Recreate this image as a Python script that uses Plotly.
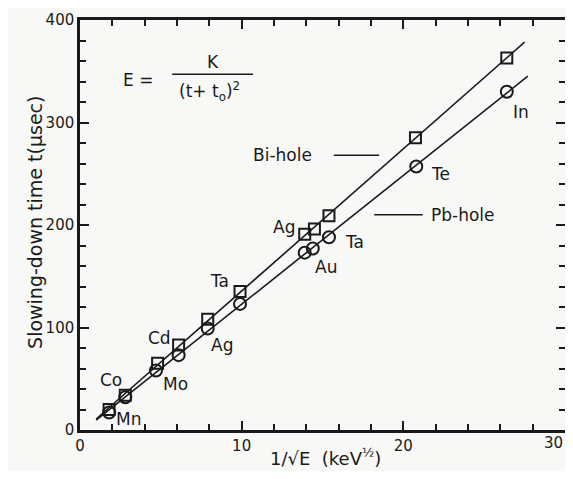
import numpy as np
import plotly.graph_objects as go

# Bi-hole (squares)
bi_x = [1.8, 2.8, 4.8, 6.1, 7.9, 9.9, 13.9, 14.5, 15.4, 20.75, 26.4]
bi_y = [20, 34, 65, 83, 108, 135, 191, 196, 209, 285, 363]
# Pb-hole (circles)
pb_x = [1.8, 2.8, 4.7, 6.1, 7.9, 9.9, 13.9, 14.4, 15.4, 20.8, 26.4]
pb_y = [17, 32, 58, 73, 99, 123, 173, 177, 188, 257, 330]

# element labels (text, x, y)
lab_text = ["Mn", "Co", "Mo", "Cd", "Ag", "Ta", "Ag", "Au", "Ta", "Te", "In"]
lab_x = [3.0, 1.9, 5.9, 4.9, 8.8, 8.6, 12.6, 15.2, 17.0, 22.3, 27.3]
lab_y = [11, 49, 45, 90, 83, 145, 198, 159, 183, 250, 310]

x_ticks = [0, 10, 20, 30]
x_ticktext = ["0", "10", "20", ""]   # last label drawn separately so it stays inside the page
y_ticks = [0, 100, 200, 300, 400]

FONT = "DejaVu Sans"
INK = "#1a1a1a"
fig = go.Figure()

def fit_line(xs, ys, x0, x1):
    k, b = np.polyfit(xs, ys, 1)
    xx = np.array([x0, x1])
    return xx, k * xx + b

fx, fy = fit_line(bi_x, bi_y, 1.0, 27.5)
fig.add_trace(go.Scatter(x=fx, y=fy, mode="lines", line=dict(color=INK, width=1.6), showlegend=False))
fx, fy = fit_line(pb_x, pb_y, 1.0, 27.7)
fig.add_trace(go.Scatter(x=fx, y=fy, mode="lines", line=dict(color=INK, width=1.6), showlegend=False))

fig.add_trace(go.Scatter(x=bi_x, y=bi_y, mode="markers", name="Bi-hole",
                         marker=dict(symbol="square-open", size=11, color=INK, line=dict(width=2)),
                         showlegend=False))
fig.add_trace(go.Scatter(x=pb_x, y=pb_y, mode="markers", name="Pb-hole",
                         marker=dict(symbol="circle-open", size=12, color=INK, line=dict(width=2)),
                         showlegend=False))

lab_font = dict(family=FONT, size=17, color=INK)
for t, x, y in zip(lab_text, lab_x, lab_y):
    fig.add_annotation(x=x, y=y, text=t, showarrow=False, font=lab_font)

# series labels
fig.add_annotation(x=12.5, y=268, text="Bi-hole", showarrow=False, font=lab_font)
fig.add_shape(type="line", x0=15.7, x1=18.5, y0=268, y1=268, line=dict(color=INK, width=1.6))
fig.add_annotation(x=23.7, y=210, text="Pb-hole", showarrow=False, font=lab_font)
fig.add_shape(type="line", x0=18.2, x1=21.2, y0=210, y1=210, line=dict(color=INK, width=1.6))

# formula
fig.add_annotation(x=3.6, y=341, text="E =", showarrow=False, font=lab_font)
fig.add_annotation(x=8.2, y=359, text="K", showarrow=False, font=lab_font)
fig.add_shape(type="line", x0=5.7, x1=10.7, y0=347, y1=347, line=dict(color=INK, width=1.6))
fig.add_annotation(x=8.0, y=330, text="(t+ t<sub>o</sub>)<sup>2</sup>", showarrow=False, font=lab_font)

# last x tick label, right-aligned at the axis end
fig.add_annotation(x=x_ticks[-1], xref="x", yref="paper", y=0, xanchor="right", yanchor="top",
                   yshift=-2, text=str(x_ticks[-1]), showarrow=False,
                   font=dict(family=FONT, size=15, color=INK))

# axis titles
fig.add_annotation(xref="paper", yref="paper", x=-0.12, y=0.507, text="Slowing-down time t(μsec)",
                   textangle=-90, showarrow=False, font=dict(family=FONT, size=19, color=INK))
fig.add_annotation(xref="paper", yref="paper", x=0.507, y=-0.1, yanchor="bottom",
                   text="1/√E  (keV<sup>½</sup>)",
                   showarrow=False, font=dict(family=FONT, size=18, color=INK))

axis_common = dict(showline=True, linecolor=INK, linewidth=2.5, mirror="allticks",
                   ticks="inside", ticklen=9, tickwidth=2, tickcolor=INK,
                   showgrid=False, zeroline=False, automargin=False,
                   ticklabeloverflow="allow",
                   tickfont=dict(family=FONT, size=15, color=INK))

fig.update_xaxes(range=[0, 30], tickvals=x_ticks, ticktext=x_ticktext,
                 minor=dict(dtick=2, ticks="inside", ticklen=6, tickwidth=1.8, tickcolor=INK),
                 **axis_common)
fig.update_yaxes(range=[0, 400], tickvals=y_ticks,
                 minor=dict(dtick=20, ticks="inside", ticklen=6, tickwidth=1.8, tickcolor=INK),
                 **axis_common)

# page body adds an 8px margin; figure sized so the page does not scroll in the 573x479 window
fig.update_layout(width=565, height=463, margin=dict(l=72, r=8, t=12, b=41),
                  paper_bgcolor="#f8f8f6", plot_bgcolor="#f8f8f6", showlegend=False)

fig.write_html("out.html")
